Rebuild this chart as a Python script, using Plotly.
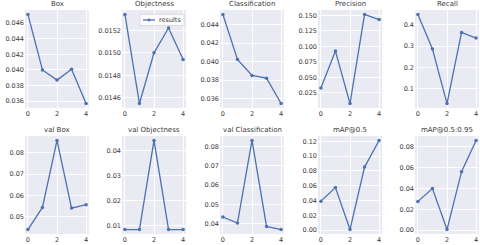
import plotly.graph_objects as go

epochs = [0, 1, 2, 3, 4]
titles = ["Box", "Objectness", "Classification", "Precision", "Recall",
          "val Box", "val Objectness", "val Classification", "mAP@0.5", "mAP@0.5:0.95"]

box = [0.0471, 0.0400, 0.0387, 0.0401, 0.0357]
objectness = [0.01534, 0.01455, 0.01500, 0.01522, 0.01494]
classification = [0.0451, 0.04022, 0.03849, 0.0382, 0.03545]
precision = [0.0329, 0.0925, 0.0076, 0.1517, 0.1434]
recall = [0.447, 0.286, 0.032, 0.3635, 0.337]
val_box = [0.0439, 0.0543, 0.0859, 0.0540, 0.0556]
val_objectness = [0.0084, 0.0084, 0.0441, 0.0084, 0.0084]
val_classification = [0.0435, 0.0404, 0.0832, 0.0386, 0.0370]
map50 = [0.0392, 0.0576, 0.0008, 0.0853, 0.1213]
map50_95 = [0.0275, 0.0398, 0.0006, 0.0559, 0.0857]
legend_label = "results"

series = [box, objectness, classification, precision, recall,
          val_box, val_objectness, val_classification, map50, map50_95]
dticks = [0.002, 0.0002, 0.002, 0.025, 0.1, 0.01, 0.01, 0.01, 0.02, 0.02]
fmts = [".3f", ".4f", ".3f", ".3f", ".1f", ".2f", ".2f", ".2f", ".2f", ".2f"]

W, H = 480, 245
col_left = [25, 122, 220, 318, 415]
col_w = 64
row_top = [10, 136]
row_h = 98

BLUE = "#4C72B0"
BG = "#EAEAF2"
TXT = "#3a3a3a"
FONT = "DejaVu Sans"


def px(x):
    return x / W


def py(y):
    return 1 - y / H


fig = go.Figure()
annotations = []
shapes = []
for i, (t, ys) in enumerate(zip(titles, series)):
    r, c = divmod(i, 5)
    n = i + 1
    xa = "x" if n == 1 else f"x{n}"
    ya = "y" if n == 1 else f"y{n}"
    fig.add_trace(go.Scatter(
        x=epochs, y=ys, mode="lines+markers", name=legend_label,
        showlegend=False,
        line=dict(color=BLUE, width=1.3),
        marker=dict(color=BLUE, size=3.5),
        xaxis=xa, yaxis=ya,
    ))
    x0 = px(col_left[c])
    x1 = px(col_left[c] + col_w)
    y1 = py(row_top[r])
    y0 = py(row_top[r] + row_h)
    lo, hi = min(ys), max(ys)
    pad = (hi - lo) * 0.05
    xkey = "xaxis" if n == 1 else f"xaxis{n}"
    ykey = "yaxis" if n == 1 else f"yaxis{n}"
    fig.layout[xkey] = dict(
        domain=[x0, x1], anchor=ya, range=[-0.2, 4.2],
        tickmode="linear", tick0=0, dtick=2,
        showgrid=True, gridcolor="white", gridwidth=0.8,
        zeroline=False, showline=False, ticks="",
        tickfont=dict(family=FONT, size=6.5, color=TXT),
    )
    fig.layout[ykey] = dict(
        domain=[y0, y1], anchor=xa, range=[lo - pad, hi + pad],
        tickmode="linear", tick0=0, dtick=dticks[i], tickformat=fmts[i],
        showgrid=True, gridcolor="white", gridwidth=0.8,
        zeroline=False, showline=False, ticks="",
        tickfont=dict(family=FONT, size=6.5, color=TXT),
    )
    annotations.append(dict(
        text=t, x=(x0 + x1) / 2, y=y1, xref="paper", yref="paper",
        xanchor="center", yanchor="bottom", yshift=0, showarrow=False,
        font=dict(family=FONT, size=7, color=TXT),
    ))

# custom compact legend inside the Objectness panel (upper right)
shapes.append(dict(type="rect", xref="paper", yref="paper",
                   x0=px(140), x1=px(184), y0=py(25.5), y1=py(14.5),
                   fillcolor="rgba(255,255,255,0.85)",
                   line=dict(color="#cccccc", width=0.6)))
shapes.append(dict(type="line", xref="paper", yref="paper",
                   x0=px(143), x1=px(155), y0=py(20), y1=py(20),
                   line=dict(color=BLUE, width=1.3)))
shapes.append(dict(type="circle", xref="paper", yref="paper",
                   x0=px(147.6), x1=px(150.4), y0=py(21.4), y1=py(18.6),
                   fillcolor=BLUE, line=dict(width=0)))
annotations.append(dict(
    text=legend_label, x=px(157), y=py(20), xref="paper", yref="paper",
    xanchor="left", yanchor="middle", showarrow=False,
    font=dict(family=FONT, size=6.5, color=TXT),
))

fig.update_layout(
    width=W, height=H,
    margin=dict(l=0, r=0, t=0, b=0),
    paper_bgcolor="white", plot_bgcolor=BG,
    annotations=annotations,
    shapes=shapes,
    showlegend=False,
)

fig.write_html("out.html", config={"displayModeBar": False},
               post_script="document.body.style.margin='0';")
